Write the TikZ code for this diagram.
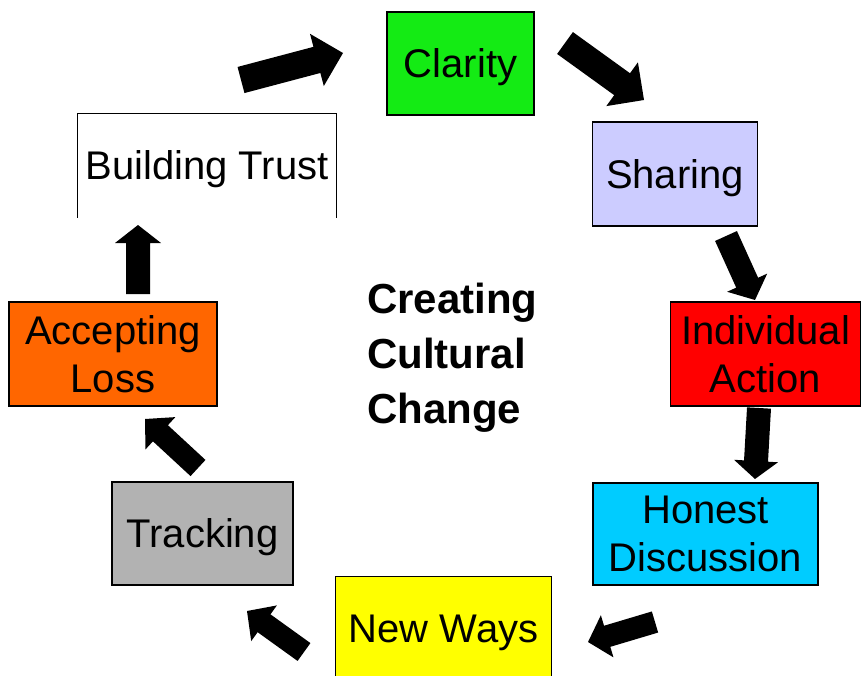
\documentclass[tikz,border=0pt]{standalone}
\usepackage{fontspec}
\setmainfont{Liberation Sans}
\usetikzlibrary{calc}
\newcommand\blkarrow[5]{%
  \coordinate (ahC) at ($(#2)!#5!(#1)$);
  \fill[black] ($(#1)!#3!90:(#2)$) -- ($(ahC)!#3!90:(#2)$) -- ($(ahC)!#4!90:(#2)$) -- (#2)
    -- ($(ahC)!#4!-90:(#2)$) -- ($(ahC)!#3!-90:(#2)$) -- ($(#1)!#3!-90:(#2)$) -- cycle;}
\begin{document}
\begin{tikzpicture}[x=1pt,y=-1pt,
  box/.style={draw=black, line width=1.3pt, inner sep=0pt, align=center,
    font=\fontsize{40}{48}\selectfont},
  oneline/.style={text height=29pt, text depth=1pt},
  openbox/.style={box, draw=none}]
\clip (0,0) rectangle (861,675);
\fill[white] (0,0) rectangle (861,675);
% boxes
\node[box, oneline, fill={rgb,255:red,20;green,235;blue,20}, minimum width=147pt, minimum height=103pt] (clar) at (460.5,63.5) {Clarity};
\node[openbox, oneline, fill=white, minimum width=258pt, minimum height=103pt] (trust) at (207,165.5) {Building Trust};
\draw[line width=1.3pt] (trust.south west) -- (trust.north west) -- (trust.north east) -- (trust.south east);
\node[box, oneline, fill={rgb,255:red,204;green,204;blue,255}, minimum width=165pt, minimum height=104pt] (shar) at (675,174) {Sharing};
\node[box, fill={rgb,255:red,255;green,0;blue,0}, minimum width=190pt, minimum height=104pt] (indiv) at (765.5,354) {Individual\\Action};
\node[box, fill={rgb,255:red,0;green,204;blue,255}, minimum width=225pt, minimum height=102pt] (hon) at (705.5,534) {Honest\\Discussion};
\node[openbox, oneline, fill={rgb,255:red,255;green,255;blue,0}, minimum width=215pt, minimum height=102pt] (neww) at (443.5,628) {New Ways};
\draw[line width=1.3pt] (neww.south west) -- (neww.north west) -- (neww.north east) -- (neww.south east);
\node[box, oneline, fill={rgb,255:red,178;green,178;blue,178}, minimum width=181pt, minimum height=103pt] (track) at (202.5,533.5) {Tracking};
\node[box, fill={rgb,255:red,255;green,102;blue,0}, minimum width=208pt, minimum height=104pt] (accl) at (113,354) {Accepting\\Loss};
% centre title
\node[inner sep=0pt, align=left, anchor=west, font=\fontsize{42}{55}\selectfont\bfseries] (title) at (367,358) {Creating\\Cultural\\Change};
% arrows
\coordinate (a1s) at (241,80);  \coordinate (a1e) at (343,53);
\coordinate (a2s) at (565,43);  \coordinate (a2e) at (644,100);
\coordinate (a3s) at (726,236); \coordinate (a3e) at (755,300);
\coordinate (a4s) at (759,408); \coordinate (a4e) at (755,479);
\coordinate (a5s) at (655,622); \coordinate (a5e) at (588,642);
\coordinate (a6s) at (304,652); \coordinate (a6e) at (247,611);
\coordinate (a7s) at (198,468); \coordinate (a7e) at (145,419);
\coordinate (a8s) at (138,294); \coordinate (a8e) at (138,225);
\blkarrow{a1s}{a1e}{13.5pt}{27pt}{27pt}
\blkarrow{a2s}{a2e}{13.5pt}{27pt}{27pt}
\blkarrow{a3s}{a3e}{12pt}{22pt}{19pt}
\blkarrow{a4s}{a4e}{12pt}{22pt}{18pt}
\blkarrow{a5s}{a5e}{11pt}{22pt}{20pt}
\blkarrow{a6s}{a6e}{11pt}{22pt}{21pt}
\blkarrow{a7s}{a7e}{11pt}{22pt}{21pt}
\blkarrow{a8s}{a8e}{12pt}{23pt}{18pt}
\end{tikzpicture}
\end{document}
